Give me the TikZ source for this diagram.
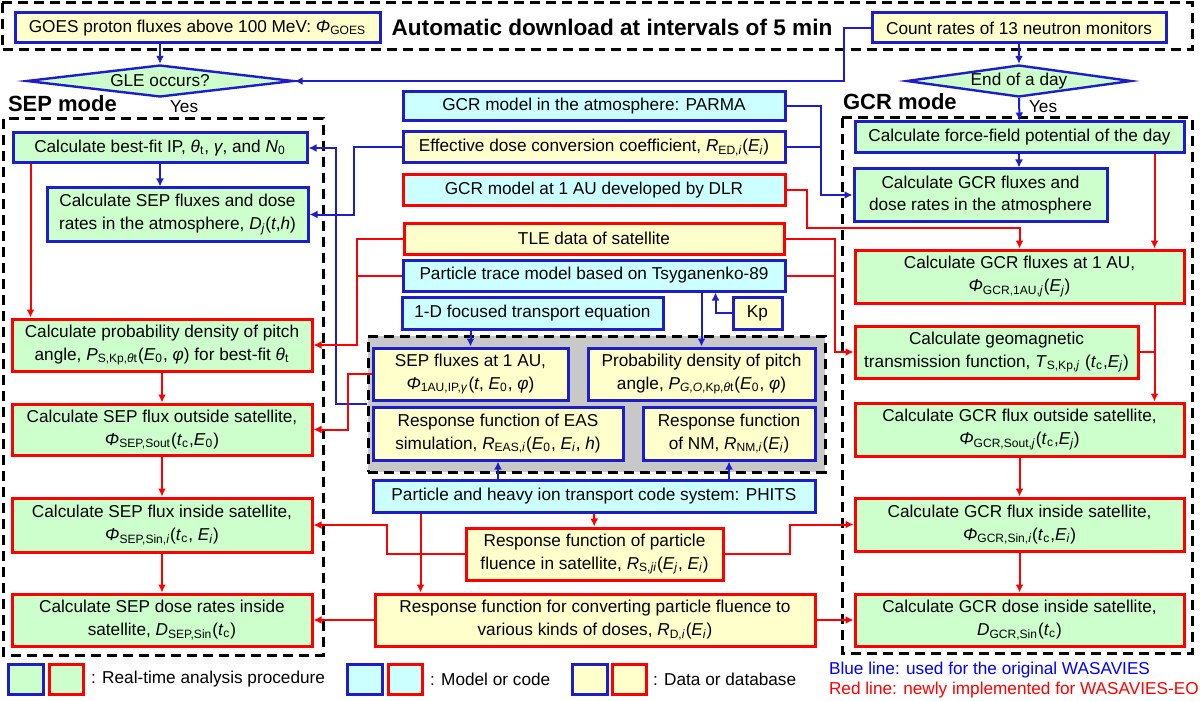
\documentclass[tikz,border=0pt]{standalone}
\usepackage{fontspec}
\setmainfont{Liberation Sans}
\usetikzlibrary{arrows.meta,shapes.geometric}
\definecolor{wblue}{RGB}{30,30,200}
\definecolor{wred}{RGB}{255,0,0}
\definecolor{wgreen}{RGB}{204,255,204}
\definecolor{wcyan}{RGB}{204,255,255}
\definecolor{wyellow}{RGB}{255,255,204}
\definecolor{wgray}{RGB}{200,200,200}
\newcommand{\iv}[1]{\textit{#1}}
\newcommand{\lo}[1]{\textsubscript{#1}}

\begin{document}
\begin{tikzpicture}[x=0.5pt,y=-0.5pt,
		font=\fontsize{8.6}{11.4}\selectfont,
		box/.style={draw,line width=1.5pt,align=center,inner sep=1pt},
		sz/.style 2 args={minimum width=#1*0.5pt,minimum height=#2*0.5pt},
		bb/.style={box,draw=wblue},
		rb/.style={box,draw=wred},
		cl/.style={fill=wgreen},
		md/.style={fill=wcyan},
		dt/.style={fill=wyellow},
		dia/.style={diamond,aspect=8,draw=wblue,fill=wgreen,line width=1.2pt,inner sep=0pt},
		bln/.style={draw=wblue,line width=1pt},
		rln/.style={draw=wred,line width=1pt},
		frm/.style={draw,line width=1.5pt,dash pattern=on 5pt off 3pt},
		mode/.style={anchor=west,font=\fontsize{11}{12}\selectfont\bfseries},
		>={Latex[length=4pt,width=4pt]}]
	\useasboundingbox (0,0) rectangle (1200,701);
	\draw[frm] (2,3) rectangle (1192,50);
	\draw[frm] (3,119) rectangle (323,655);
	\draw[frm] (842,118) rectangle (1192,653);
	% download
	\node[bb,dt,sz={365}{30}] (goes) at (197.5,28) {GOES proton fluxes above 100 MeV: \iv{Φ}\lo{GOES}};
	\node[font=\fontsize{11.3}{12}\selectfont\bfseries] (ttl) at (612,27) {Automatic download at intervals of 5 min};
	\node[bb,dt,sz={294}{30}] (cnt) at (1019,28) {Count rates of 13 neutron monitors};
	\node[dia,sz={267}{32}] (gle) at (160,81) {GLE occurs?};
	\node[dia,sz={200}{32}] (eod) at (1019,81) {End of a day};
	\node[anchor=west] (yes1) at (163,107) {Yes};
	\node[anchor=west] (yes2) at (1022,107) {Yes};
	\node[mode] (sepm) at (1,104) {SEP mode};
	\node[mode] (gcrm) at (836,102) {GCR mode};
	% SEP mode
	\node[bb,cl,sz={294}{30}] (s1) at (160,148) {Calculate best-fit IP, \iv{θ}\lo{t}, \iv{γ}, and \iv{N}\lo{0}};
	\node[bb,cl,sz={261}{53}] (s2) at (177.5,214.5) {Calculate SEP fluxes and dose\\rates in the atmosphere, \iv{D\lo{j}}(\iv{t},\iv{h})};
	\node[rb,cl,sz={300}{52}] (s3) at (162,345) {Calculate probability density of pitch\\angle, \iv{P}\lo{S,Kp,\iv{θ}t}(\iv{E}\lo{0}, \iv{φ}) for best-fit \iv{θ}\lo{t}};
	\node[rb,cl,sz={300}{51}] (s4) at (162,429.5) {Calculate SEP flux outside satellite,\\\iv{Φ}\lo{SEP,Sout}(\iv{t}\lo{c},\iv{E}\lo{0})};
	\node[rb,cl,sz={300}{54}] (s5) at (162,525) {Calculate SEP flux inside satellite,\\\iv{Φ}\lo{SEP,Sin,\iv{i}}(\iv{t}\lo{c}, \iv{E\lo{i}})};
	\node[rb,cl,sz={300}{52}] (s6) at (162,620) {Calculate SEP dose rates inside\\satellite, \iv{D}\lo{SEP,Sin}(\iv{t}\lo{c})};
	% models and data
	\node[bb,md,sz={382}{29}] (parma) at (594,106.5) {GCR model in the atmosphere: PARMA};
	\node[bb,dt,sz={382}{31}] (edc) at (594,147.5) {Effective dose conversion coefficient, \iv{R}\lo{ED,\iv{i}}(\iv{E\lo{i}})};
	\node[rb,md,sz={382}{30}] (dlr) at (594,190) {GCR model at 1 AU developed by DLR};
	\node[rb,dt,sz={380}{31}] (tle) at (594,238.5) {TLE data of satellite};
	\node[bb,md,sz={382}{31}] (tsy) at (594,275.5) {Particle trace model based on Tsyganenko-89};
	\node[bb,md,sz={261}{32}] (fte) at (532.5,313) {1-D focused transport equation};
	\node[bb,dt,sz={49}{32}] (kp) at (757.5,313) {Kp};
	\node[frm,fill=wgray,sz={457}{136}] (grp) at (596.5,404) {};
	\node[bb,dt,sz={195}{52}] (sep1au) at (470.5,374) {SEP fluxes at 1 AU,\\\iv{Φ}\lo{1AU,IP,\iv{γ}}(\iv{t}, \iv{E}\lo{0}, \iv{φ})};
	\node[bb,dt,sz={227}{52}] (pgo) at (701.5,374) {Probability density of pitch\\angle, \iv{P}\lo{\iv{G},\iv{O},Kp,\iv{θ}t}(\iv{E}\lo{0}, \iv{φ})};
	\node[bb,dt,sz={250}{53}] (eas) at (498,433.5) {Response function of EAS\\simulation, \iv{R}\lo{EAS,\iv{i}}(\iv{E}\lo{0}, \iv{E\lo{i}}, \iv{h})};
	\node[bb,dt,sz={172}{53}] (nm) at (729,433.5) {Response function\\of NM, \iv{R}\lo{NM,\iv{i}}(\iv{E\lo{i}})};
	\node[bb,md,sz={442}{32}] (phits) at (594,496) {Particle and heavy ion transport code system: PHITS};
	\node[rb,dt,sz={257}{52}] (rs) at (594.5,554) {Response function of particle\\fluence in satellite, \iv{R}\lo{S,\iv{ji}}(\iv{E\lo{j}}, \iv{E\lo{i}})};
	\node[rb,dt,sz={440}{52}] (rd) at (595,620) {Response function for converting particle fluence to\\various kinds of doses, \iv{R}\lo{D,\iv{i}}(\iv{E\lo{i}})};
	% GCR mode
	\node[bb,cl,sz={329}{31}] (g1) at (1019.5,137.5) {Calculate force-field potential of the day};
	\node[bb,cl,sz={253}{52}] (g2) at (980.5,195) {Calculate GCR fluxes and\\dose rates in the atmosphere};
	\node[rb,cl,sz={329}{53}] (g3) at (1019.5,276.5) {Calculate GCR fluxes at 1 AU,\\\iv{Φ}\lo{GCR,1AU,\iv{j}}(\iv{E\lo{j}})};
	\node[rb,cl,sz={283}{52}] (g4) at (996.5,352) {Calculate geomagnetic\\transmission function, \iv{T}\lo{S,Kp,\iv{j}} (\iv{t}\lo{c},\iv{E\lo{j}})};
	\node[rb,cl,sz={329}{53}] (g5) at (1019.5,429.5) {Calculate GCR flux outside satellite,\\\iv{Φ}\lo{GCR,Sout,\iv{j}}(\iv{t}\lo{c},\iv{E\lo{j}})};
	\node[rb,cl,sz={329}{53}] (g6) at (1019.5,524.5) {Calculate GCR flux inside satellite,\\\iv{Φ}\lo{GCR,Sin,\iv{i}}(\iv{t}\lo{c},\iv{E\lo{i}})};
	\node[rb,cl,sz={329}{52}] (g7) at (1019.5,620) {Calculate GCR dose inside satellite,\\\iv{D}\lo{GCR,Sin}(\iv{t}\lo{c})};
	% legend
	\node[bb,cl,sz={35}{30}] (lg1) at (25.5,679) {};
	\node[rb,cl,sz={34}{30}] (lg2) at (66,679) {};
	\node[anchor=west] (lt1) at (84,679) {: Real-time analysis procedure};
	\node[bb,md,sz={35}{30}] (lg3) at (364.5,679) {};
	\node[rb,md,sz={34}{30}] (lg4) at (405,679) {};
	\node[anchor=west] (lt2) at (423,679) {: Model or code};
	\node[bb,dt,sz={35}{30}] (lg5) at (589.5,679) {};
	\node[rb,dt,sz={34}{30}] (lg6) at (629,679) {};
	\node[anchor=west] (lt3) at (646,679) {: Data or database};
	\node[anchor=west,text=blue] (lt4) at (822,670) {Blue line: used for the original WASAVIES};
	\node[anchor=west,text=wred] (lt5) at (822,690) {Red line: newly implemented for WASAVIES-EO};
	% blue lines
	\draw[bln,->] (gle.north |- goes.south) -- (gle.north);
	\draw[bln,->] (cnt.south) -- (eod.north);
	\draw[bln,->] (cnt.west) -- ++(-13.5pt,0) |- (gle.east);
	\draw[bln,->] (eod.south) -- (g1.north);
	\draw[bln,->] (s1.south) -- (s1.south |- s2.north);
	\draw[bln,->] (g1.south -| eod) coordinate (ga) -- (ga |- g2.north);
	\draw[bln,->] (parma.east) -- ++(17pt,0) coordinate (pv) |- (g2.west);
	\draw[bln] (edc.east) -- (edc.east -| pv);
	\draw[bln,->] (edc.west) -- ++(-24pt,0) |- (s2.east);
	\draw[bln,->] (grp.west) -- ++(-15.5pt,0) |- (s1.east);
	\draw[bln,->] (tsy.south -| pgo) -- (pgo.north);
	\draw[bln,->] (kp.west) -- ++(-8pt,0) coordinate (kq) -- (kq |- tsy.south);
	\draw[bln,->] (fte.south -| sep1au) -- (sep1au.north);
	\draw[bln,->] (phits.north -| eas) -- (eas.south);
	\draw[bln,->] (phits.north -| nm) -- (nm.south);
	% red lines
	\draw[rln,->] ([xshift=9.5pt]s1.south west) -- ([xshift=9.5pt]s1.south west |- s3.north);
	\draw[rln,->] (s3) -- (s4);
	\draw[rln,->] (s4) -- (s5);
	\draw[rln,->] (s5) -- (s6);
	\draw[rln,->] (dlr.east) -- ++(10pt,0) |- ([yshift=10.5pt]g3.north) -- (g3.north);
	\draw[rln,->] (tle.east) -- ++(24.5pt,0) coordinate (tv) |- (g4.west);
	\draw[rln] (tsy.east) -- (tsy.east -| tv);
	\draw[rln,->] (tle.west) -- ++(-23pt,0) coordinate (tw) |- (s3.east);
	\draw[rln] (tsy.west) -- (tsy.west -| tw);
	\draw[rln,->] (sep1au.west) -- ++(-12pt,0) |- (s4.east);
	\draw[rln,->] ([xshift=-15.5pt]g1.south east) coordinate (gv) -- (gv |- g3.north);
	\draw[rln,->] ([xshift=-15.5pt]g3.south east) -- (gv |- g5.north);
	\draw[rln] (g4.east) -- (g4.east -| gv);
	\draw[rln,->] (g5) -- (g6);
	\draw[rln,->] (g6) -- (g7);
	\draw[rln,->] (phits) -- (rs);
	\draw[rln,->] ([xshift=24.5pt]phits.south west) coordinate (pw) -- (pw |- rd.north);
	\draw[rln,->] (rs.west) -- ++(-39pt,0) |- (s5.east);
	\draw[rln,->] (rs.east) -- ++(32.5pt,0) |- (g6.west);
	\draw[rln,->] (rd.west) -- (s6.east);
	\draw[rln,->] (rd.east) -- (g7.west);
\end{tikzpicture}
\end{document}
